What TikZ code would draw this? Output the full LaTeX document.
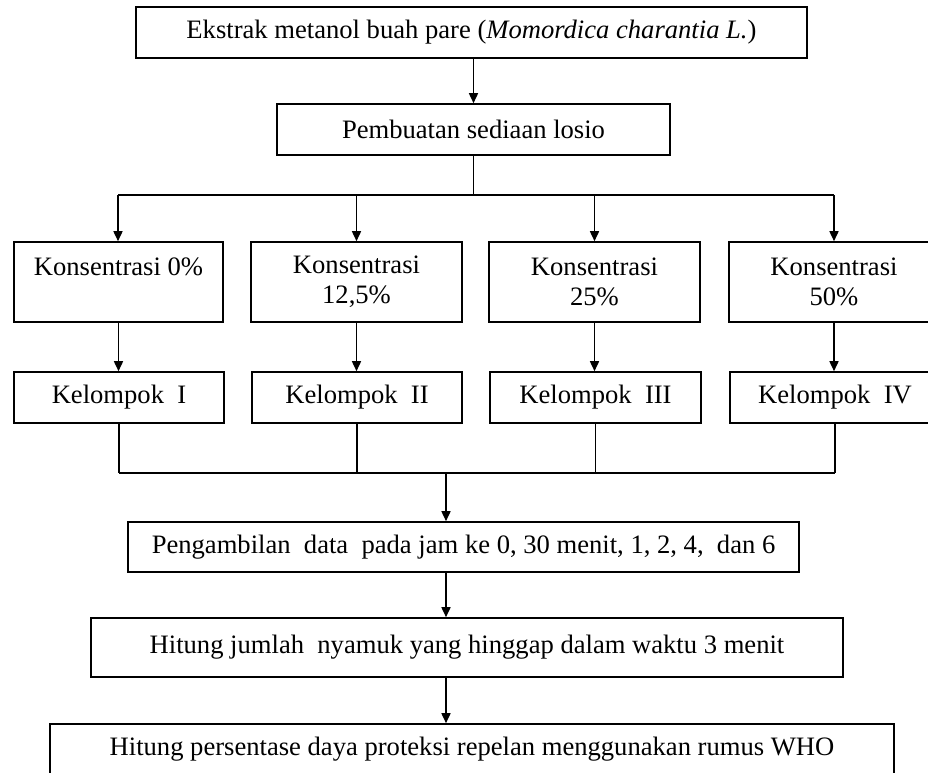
\documentclass[tikz,border=0pt]{standalone}
\usepackage{fontspec}
\setmainfont{Liberation Serif}
\usetikzlibrary{arrows.meta}
\begin{document}
\begin{tikzpicture}[x=1pt,y=-1pt,
  box/.style={draw,line width=1.6pt,inner sep=0pt,align=center,
    font=\fontsize{26.6}{30}\selectfont},
  arr/.style={line width=1.6pt,-{Triangle[length=10pt,width=9pt]}},
  ln/.style={line width=1.6pt}]
\useasboundingbox (0,0) rectangle (928,772);
\clip (0,0) rectangle (928,772);
\fill[white] (0,0) rectangle (928,772);
% top boxes
\node[box,minimum width=671pt,minimum height=51pt] (b1) at (471.5,32.5)
  {Ekstrak metanol buah pare (\textit{Momordica charantia L.})};
\node[box,minimum width=393pt,minimum height=51pt] (b2) at (473.5,129.5)
  {Pembuatan sediaan losio};
% concentration boxes
\node[box,minimum width=209pt,minimum height=80pt] (k1) at (118.5,282)
  {Konsentrasi 0\%\\\phantom{0}};
\node[box,minimum width=211pt,minimum height=80pt] (k2) at (356.5,282)
  {Konsentrasi\\12,5\%};
\node[box,minimum width=211pt,minimum height=80pt] (k3) at (594.5,282)
  {Konsentrasi\\25\%};
\node[box,minimum width=210pt,minimum height=80pt] (k4) at (834,282)
  {Konsentrasi\\50\%};
% group boxes
\node[box,minimum width=210pt,minimum height=51pt] (g1) at (119,397.5)
  {Kelompok\ \ I};
\node[box,minimum width=210pt,minimum height=51pt] (g2) at (357,397.5)
  {Kelompok\ \ II};
\node[box,minimum width=211pt,minimum height=51pt] (g3) at (595.5,397.5)
  {Kelompok\ \ III};
\node[box,minimum width=210pt,minimum height=51pt] (g4) at (835,397.5)
  {Kelompok\ \ IV};
% lower boxes
\node[box,minimum width=671pt,minimum height=50pt] (p) at (463.5,547)
  {Pengambilan\ \ data\ \ pada jam ke 0, 30 menit, 1, 2, 4,\ \ dan 6};
\node[box,minimum width=752pt,minimum height=59pt] (h) at (467,647.5)
  {Hitung jumlah\ \ nyamuk yang hinggap dalam waktu 3 menit};
\node[box,minimum width=844pt,minimum height=51pt] (w) at (472,749.5)
  {Hitung persentase daya proteksi repelan menggunakan rumus WHO};
% junction coordinates
\coordinate (jL) at (118,195);
\coordinate (jR) at (834,195);
\coordinate (mL) at (120,473);
\coordinate (mR) at (835,473);
\coordinate (mj) at (446,473);
% connectors
\draw[arr] (b1.south -| b2.north) -- (b2.north);
\draw[ln] (b2.south) -- (b2.south |- jL);
\draw[ln] (jL) -- (jR);
\draw[arr] (jL) -- (jL |- k1.north);
\draw[arr] (k2.north |- jL) -- (k2.north);
\draw[arr] (k3.north |- jL) -- (k3.north);
\draw[arr] (jR) -- (jR |- k4.north);
\draw[arr] (k1.south) -- (g1.north -| k1.south);
\draw[arr] (k2.south) -- (g2.north -| k2.south);
\draw[arr] (k3.south) -- (g3.north -| k3.south);
\draw[arr] (k4.south) -- (g4.north -| k4.south);
\draw[ln] (g1.south) -- (g1.south |- mL);
\draw[ln] (g2.south) -- (g2.south |- mL);
\draw[ln] (g3.south) -- (g3.south |- mL);
\draw[ln] (g4.south) -- (g4.south |- mL);
\draw[ln] (g1.south |- mL) -- (g4.south |- mR);
\draw[arr] (mj) -- (mj |- p.north);
\draw[arr] (p.south -| mj) -- (h.north -| mj);
\draw[arr] (h.south -| mj) -- (w.north -| mj);
\end{tikzpicture}
\end{document}
